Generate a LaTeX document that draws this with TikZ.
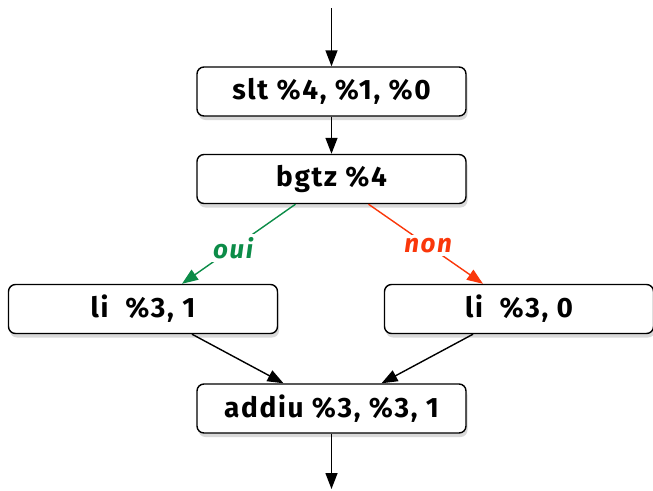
\documentclass[tikz,border=0pt]{standalone}
\usepackage{fontspec}
\setmainfont{Fira Sans}[LetterSpace=6]
\usetikzlibrary{arrows.meta,shadows}
\definecolor{ouigreen}{RGB}{12,140,72}
\definecolor{nonred}{RGB}{250,55,10}
\begin{document}
\begin{tikzpicture}[x=1pt,y=-1pt,
  instr/.style={draw=black, line width=1.4pt, rounded corners=7pt, fill=white,
    minimum width=269pt, minimum height=49pt, inner sep=0pt,
    font=\fontsize{28}{32}\selectfont\bfseries,
    drop shadow={opacity=0.3, shadow xshift=1.5pt, shadow yshift=-4pt}},
  flow/.style={line width=1.4pt, -{Triangle[length=16pt,width=12pt]}},
  lbl/.style={fill=white, inner sep=3pt, font=\fontsize{26}{30}\selectfont\bfseries\itshape}]
\useasboundingbox (0,0) rectangle (653,490);
\node[instr] (slt) at (331.5,91.5) {slt \%4, \%1, \%0};
\node[instr] (bgtz) at (331.5,179) {bgtz \%4};
\node[instr] (li1) at (143,309) {li\ \ \%3, 1};
\node[instr] (li0) at (519,309) {li\ \ \%3, 0};
\node[instr] (addiu) at (331.5,408.5) {addiu \%3, \%3, 1};
\coordinate (top) at (331.5,8);
\coordinate (bot) at (331.5,489);
\draw[flow] (top) -- (slt.north);
\draw[flow] (slt.south) -- (bgtz.north);
\draw[flow, draw=ouigreen, fill=ouigreen] ([xshift=-36pt]bgtz.south) -- node[lbl, text=ouigreen, pos=0.55] {oui} ([xshift=39pt]li1.north);
\draw[flow, draw=nonred, fill=nonred] ([xshift=37pt]bgtz.south) -- node[lbl, text=nonred, pos=0.52] {non} ([xshift=-36pt]li0.north);
\draw[flow] ([xshift=49pt]li1.south) -- ([xshift=-48pt]addiu.north);
\draw[flow] ([xshift=-46pt]li0.south) -- ([xshift=50pt]addiu.north);
\draw[flow] (addiu.south) -- (bot);
\end{tikzpicture}
\end{document}
